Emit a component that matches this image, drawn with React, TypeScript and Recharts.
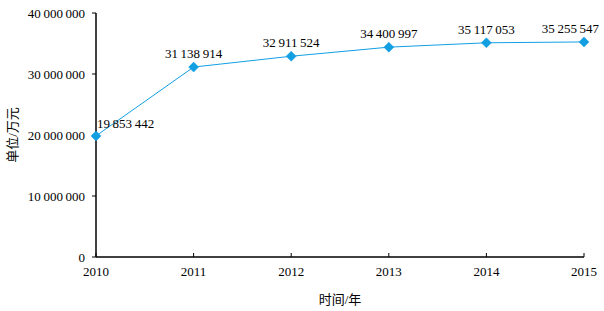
import React from 'react';
import { LineChart, Line, XAxis, YAxis, LabelList } from 'recharts';

const years = [2010, 2011, 2012, 2013, 2014, 2015];
const values = [19853442, 31138914, 32911524, 34400997, 35117053, 35255547];
const yTicks = [0, 10000000, 20000000, 30000000, 40000000];

const data = years.map((year, i) => ({ year, value: values[i] }));

const BLUE = '#129fe2';
const FONT = "'Liberation Serif', 'Times New Roman', 'Noto Sans CJK SC', serif";
const textStyle = { fontFamily: FONT, fontSize: 13 };

// groups of three digits, separated by a thin space
const fmt = (v: number) => String(v).replace(/\B(?=(\d{3})+(?!\d))/g, '\u2009');

function Diamond(props: any) {
  const { cx, cy } = props;
  if (cx == null || cy == null) return null;
  const r = 5;
  return (
    <polygon
      points={`${cx},${cy - r} ${cx + r},${cy} ${cx},${cy + r} ${cx - r},${cy}`}
      fill={BLUE}
      stroke={BLUE}
      strokeWidth={0.5}
    />
  );
}

function XTick(props: any) {
  const { x, y, payload } = props;
  return (
    <g>
      <line x1={x} y1={y} x2={x} y2={y - 4} stroke="#000" strokeWidth={1} />
      <text x={x} y={y + 19} textAnchor="middle" style={textStyle} fill="#000">
        {payload.value}
      </text>
    </g>
  );
}

function YTick(props: any) {
  const { x, y, payload } = props;
  return (
    <text x={x} y={y + 4.5} textAnchor="end" style={textStyle} fill="#000">
      {fmt(payload.value)}
    </text>
  );
}

function ValueLabel(props: any) {
  const { x, y, value, index } = props;
  let anchor: 'start' | 'middle' | 'end' = 'middle';
  let tx = x;
  let ty = y - 9;
  if (index === 0) {
    anchor = 'start';
    tx = x + 1;
    ty = y - 8;
  } else if (index === values.length - 1) {
    anchor = 'end';
    tx = x + 15;
  }
  return (
    <text x={tx} y={ty} textAnchor={anchor} style={textStyle} fill="#000">
      {fmt(value)}
    </text>
  );
}

export default function App() {
  return (
    <div style={{ position: 'absolute', left: 0, top: 0, width: 604, height: 311, background: '#fff' }}>
      <LineChart width={604} height={311} data={data} margin={{ top: 13, right: 20, left: 0, bottom: 0 }}>
        <XAxis
          dataKey="year"
          type="number"
          domain={[2010, 2015]}
          ticks={years}
          height={54}
          tickSize={0}
          tickMargin={0}
          tick={<XTick />}
          axisLine={{ stroke: '#000', strokeWidth: 1.5 }}
          label={{ value: '时间/年', position: 'insideBottom', offset: 7, style: textStyle, fill: '#000' }}
        />
        <YAxis
          type="number"
          domain={[0, 40000000]}
          ticks={yTicks}
          width={96}
          tickSize={4}
          tickMargin={7}
          tick={<YTick />}
          tickLine={{ stroke: '#000' }}
          axisLine={{ stroke: '#000', strokeWidth: 1.5 }}
          label={{
            value: '单位/万元',
            angle: -90,
            position: 'insideLeft',
            offset: 12,
            style: { ...textStyle, textAnchor: 'middle' },
            fill: '#000',
          }}
        />
        <Line
          type="linear"
          dataKey="value"
          stroke={BLUE}
          strokeWidth={1}
          dot={<Diamond />}
          activeDot={false}
          isAnimationActive={false}
        >
          <LabelList dataKey="value" content={<ValueLabel />} />
        </Line>
      </LineChart>
    </div>
  );
}
